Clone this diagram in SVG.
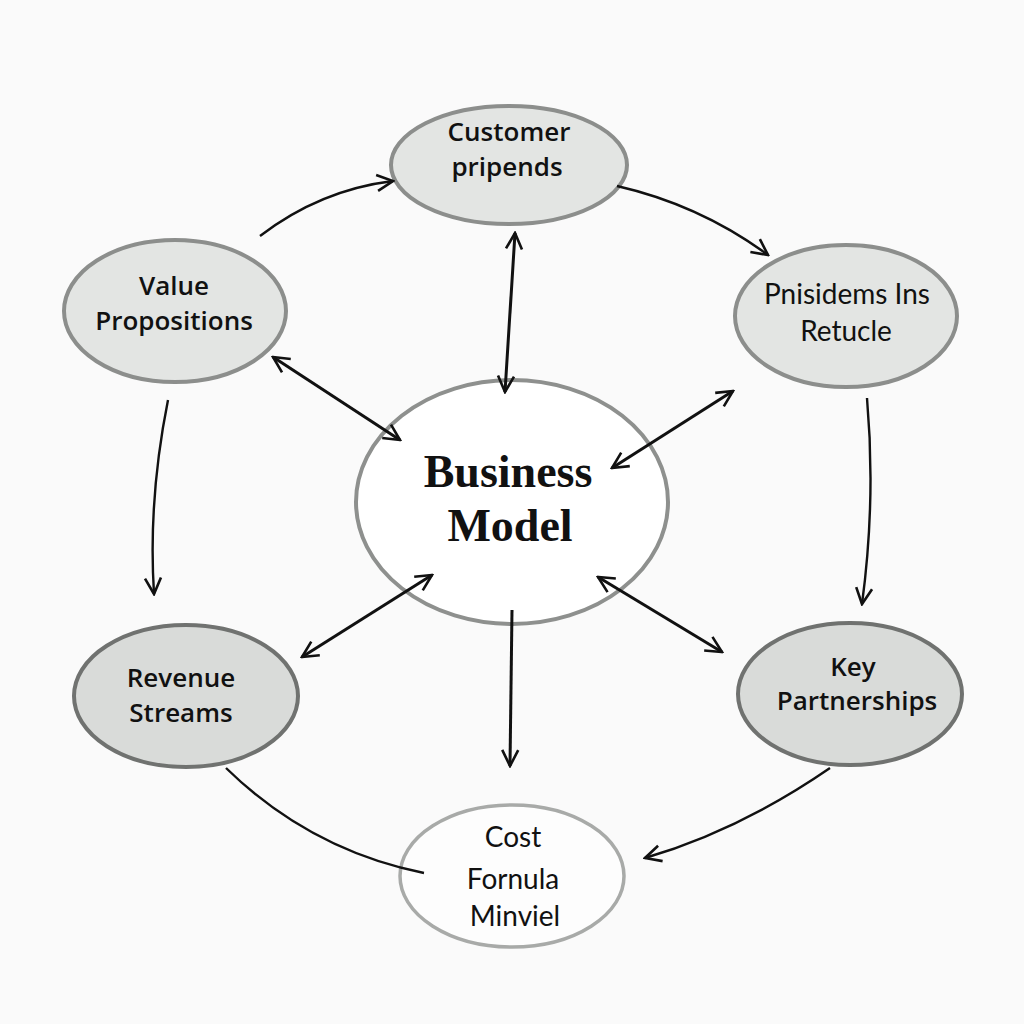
<svg xmlns="http://www.w3.org/2000/svg" width="1024" height="1024" viewBox="0 0 1024 1024">
<defs>
<marker id="ah" viewBox="0 0 20 20" refX="18" refY="10" markerWidth="20" markerHeight="20" markerUnits="userSpaceOnUse" orient="auto-start-reverse">
<path d="M2,2 L18,10 L2,18" fill="none" stroke="#111" stroke-width="2.6" stroke-linejoin="miter"/>
</marker>
<style>
.n{fill:#e3e5e3;stroke:#8c8e8c;stroke-width:4}
.nd{fill:#d9dbd9;stroke:#707270;stroke-width:4}
.nw{fill:#fdfdfd;stroke:#a8aaa8;stroke-width:3.5}
.nc{fill:#ffffff;stroke:#8e908e;stroke-width:4}
.t{font-family:"Open Sans","Liberation Sans",sans-serif;font-weight:600;font-size:26px;fill:#111;text-anchor:middle}
.r{font-family:Lato,"Liberation Sans",sans-serif;font-weight:400;font-size:28px;fill:#111;text-anchor:middle}
.b{font-family:"Liberation Serif",serif;font-weight:700;font-size:46px;fill:#111;text-anchor:middle}
.c{fill:none;stroke:#111;stroke-width:2.4}
.c2{fill:none;stroke:#111;stroke-width:3}
</style>
</defs>
<rect width="1024" height="1024" fill="#fafafa"/>
<g id="customer">
<ellipse class="n" cx="509" cy="165" rx="118" ry="59"/>
<text class="t" x="509" y="141">Customer</text>
<text class="t" x="507" y="176">pripends</text>
</g>
<g id="value">
<ellipse class="n" cx="175" cy="311" rx="111" ry="71"/>
<text class="t" x="174" y="295">Value</text>
<text class="t" x="174" y="330">Propositions</text>
</g>
<g id="pnisidems">
<ellipse class="n" cx="846" cy="316" rx="111" ry="71"/>
<text class="r" x="847" y="304">Pnisidems Ins</text>
<text class="r" x="846" y="341">Retucle</text>
</g>
<g id="business">
<ellipse class="nc" cx="512" cy="502" rx="156" ry="122"/>
<text class="b" x="508" y="487">Business</text>
<text class="b" x="510" y="541">Model</text>
</g>
<g id="revenue">
<ellipse class="nd" cx="186" cy="696" rx="112" ry="71"/>
<text class="t" x="181" y="687">Revenue</text>
<text class="t" x="181" y="722">Streams</text>
</g>
<g id="key">
<ellipse class="nd" cx="850" cy="694" rx="112" ry="71"/>
<text class="t" x="853" y="676">Key</text>
<text class="t" x="857" y="710">Partnerships</text>
</g>
<g id="cost">
<ellipse class="nw" cx="512" cy="876" rx="112" ry="71"/>
<text class="r" x="513" y="847">Cost</text>
<text class="r" x="513" y="889">Fornula</text>
<text class="r" x="515" y="926">Minviel</text>
</g>
<g id="connectors">
<path class="c" d="M260,236 Q320,190 393,181" marker-end="url(#ah)"/>
<path class="c" d="M617,186 Q700,205 768,255" marker-end="url(#ah)"/>
<path class="c2" d="M515,233 L505,392" marker-start="url(#ah)" marker-end="url(#ah)"/>
<path class="c2" d="M273,357 L400,440" marker-start="url(#ah)" marker-end="url(#ah)"/>
<path class="c2" d="M733,391 L612,468" marker-start="url(#ah)" marker-end="url(#ah)"/>
<path class="c2" d="M432,575 L302,657" marker-start="url(#ah)" marker-end="url(#ah)"/>
<path class="c2" d="M598,577 L722,652" marker-start="url(#ah)" marker-end="url(#ah)"/>
<path class="c2" d="M512,610 L510,766" marker-end="url(#ah)"/>
<path class="c" d="M168,400 Q148,500 154,594" marker-end="url(#ah)"/>
<path class="c" d="M867,398 Q876,500 862,604" marker-end="url(#ah)"/>
<path class="c" d="M226,768 Q310,850 424,873"/>
<path class="c" d="M830,768 Q740,830 645,858" marker-end="url(#ah)"/>
</g>
</svg>
